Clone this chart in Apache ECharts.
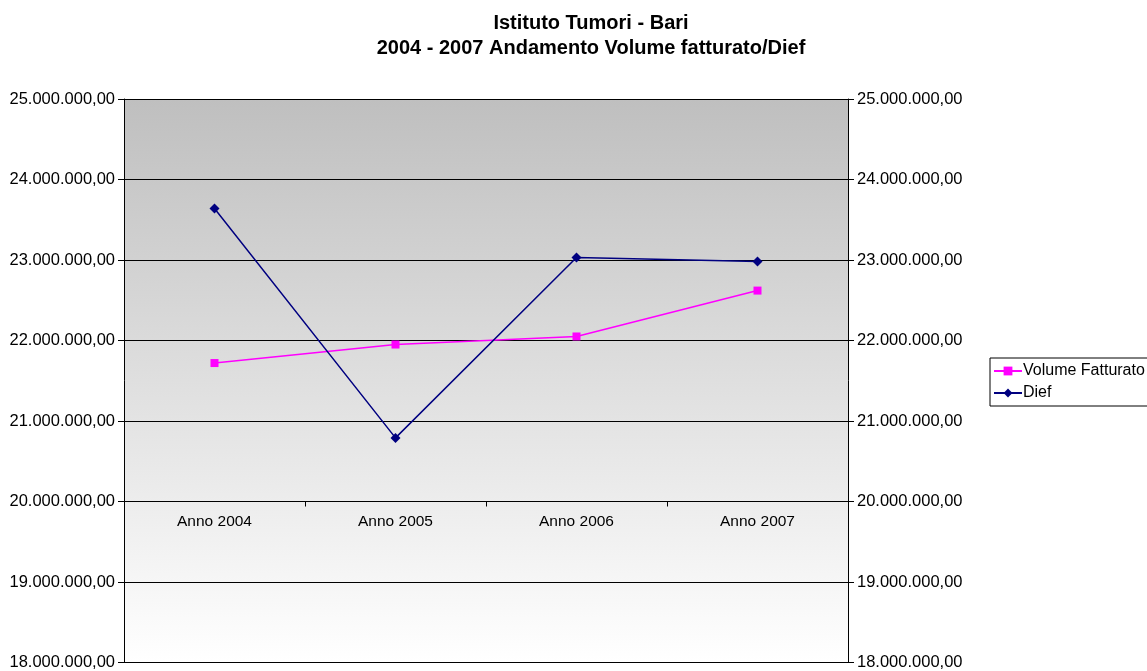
<!DOCTYPE html>
<html>
<head>
<meta charset="utf-8">
<script src="https://cdn.jsdelivr.net/npm/echarts@6/dist/echarts.min.js"></script>
<style>
  html, body { margin: 0; padding: 0; background: #fff; }
  #chart { width: 1147px; height: 671px; }
</style>
</head>
<body>
<div id="chart"></div>
<script>
let categories = ['Anno 2004', 'Anno 2005', 'Anno 2006', 'Anno 2007'];
let volumeFatturato = [21720000, 21950000, 22050000, 22620000];
let dief = [23640000, 20790000, 23030000, 22980000];

// 25.000.000,00 style
function itNum(v) {
    let s = Math.round(v).toString().replace(/\B(?=(\d{3})+(?!\d))/g, '.');
    return s + ',00';
}

let chart = echarts.init(document.getElementById('chart'));
let font = 'Liberation Sans, Arial, sans-serif';

let yBase = {
    type: 'value',
    min: 18000000,
    max: 25000000,
    interval: 1000000,
    axisLine: { show: true, lineStyle: { color: '#000', width: 1 } },
    axisTick: { show: true, length: 6, lineStyle: { color: '#000' } },
    axisLabel: { formatter: itNum, color: '#000', fontSize: 16.5, fontFamily: font, margin: 9 },
};

let option = {
    animation: false,
    title: {
        text: 'Istituto Tumori - Bari\n2004 - 2007 Andamento Volume fatturato/Dief',
        left: 586,
        textAlign: 'center',
        top: 6,
        textStyle: { fontSize: 20, fontWeight: 'bold', color: '#000', fontFamily: font, lineHeight: 25 }
    },
    legend: {
        orient: 'vertical',
        left: 990,
        top: 358,
        padding: [5, 8, 5, 3],
        itemGap: 6,
        itemWidth: 28,
        itemHeight: 11,
        borderColor: '#000',
        borderWidth: 1,
        textStyle: { fontSize: 16, lineHeight: 16, color: '#000', fontFamily: font, padding: [0, 0, 0, -4] },
        data: ['Volume Fatturato', 'Dief']
    },
    grid: {
        left: 124,
        right: 299,
        top: 99,
        bottom: 8,
        show: true,
        borderWidth: 0,
        backgroundColor: {
            type: 'linear', x: 0, y: 0, x2: 0, y2: 1,
            colorStops: [
                { offset: 0, color: '#bfbfbf' },
                { offset: 1, color: '#ffffff' }
            ]
        }
    },
    xAxis: {
        type: 'category',
        data: categories,
        offset: -161,
        axisLine: { show: true, lineStyle: { color: '#000', width: 1 } },
        axisTick: { show: true, length: 5, lineStyle: { color: '#000' } },
        axisLabel: { color: '#000', fontSize: 15.5, fontFamily: font, margin: 12 },
        splitLine: { show: false }
    },
    yAxis: [
        Object.assign({}, yBase, {
            position: 'left',
            splitLine: { show: true, lineStyle: { color: '#000', width: 1 } }
        }),
        Object.assign({}, yBase, {
            position: 'right',
            splitLine: { show: false }
        })
    ],
    series: [
        {
            name: 'Volume Fatturato',
            type: 'line',
            data: volumeFatturato,
            symbol: 'rect',
            symbolSize: 8,
            itemStyle: { color: '#ff00ff' },
            lineStyle: { color: '#ff00ff', width: 1.5 }
        },
        {
            name: 'Dief',
            type: 'line',
            yAxisIndex: 1,
            data: dief,
            symbol: 'diamond',
            symbolSize: 10,
            itemStyle: { color: '#000080' },
            lineStyle: { color: '#000080', width: 1.5 }
        }
    ]
};
option && chart.setOption(option);
</script>
</body>
</html>
